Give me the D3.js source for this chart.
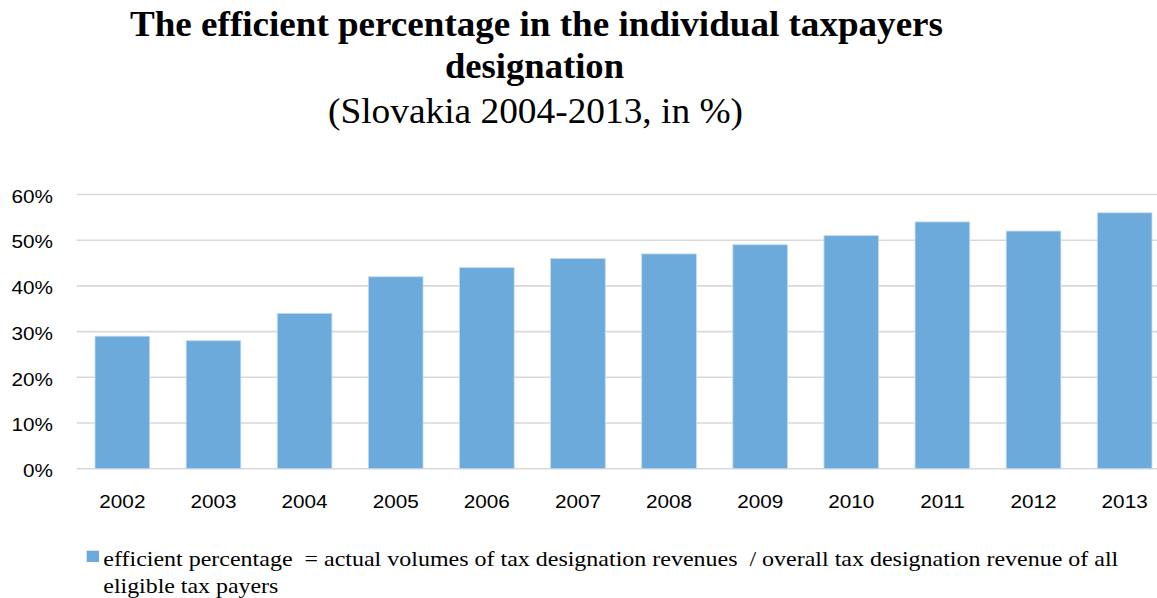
<!DOCTYPE html>
<html>
<head>
<meta charset="utf-8">
<script src="https://cdn.jsdelivr.net/npm/d3@7"></script>
<style>
  html, body { margin: 0; padding: 0; background: #ffffff; overflow: hidden; }
  svg { display: block; }
  text { white-space: pre; }
</style>
</head>
<body>
<svg id="chart" width="1157" height="598"></svg>
<script>
// Efficient percentage of tax designation by year
const years = ["2002", "2003", "2004", "2005", "2006", "2007", "2008", "2009", "2010", "2011", "2012", "2013"];
const efficientPct = [29, 28, 34, 42, 44, 46, 47, 49, 51, 54, 52, 56];
const yTicks = [0, 10, 20, 30, 40, 50, 60];

const titleLines = ["The efficient percentage in the individual taxpayers", "designation"];
const subtitle = "(Slovakia 2004-2013, in %)";
const legendLines = [
  "efficient percentage  = actual volumes of tax designation revenues  / overall tax designation revenue of all",
  "eligible tax payers"
];

const W = 1157, H = 598;
const barColor = "#6caadb";
const gridColor = "#d9d9d9";
const stretch = 1.12; // text in this layout is drawn slightly wide
const serif = "'Liberation Serif', 'Times New Roman', serif";
const sans = "'Liberation Sans', Arial, sans-serif";

const svg = d3.select("#chart");

const x = d3.scaleBand()
  .domain(years)
  .range([76.8, 1170.2])
  .paddingInner(0.4)
  .paddingOuter(0.2);

const y = d3.scaleLinear()
  .domain([0, 60])
  .range([468.7, 194.5]);

// widen a text node by the layout stretch factor
function widen(sel) {
  sel.each(function () {
    const w = this.getComputedTextLength();
    d3.select(this)
      .attr("textLength", w * stretch)
      .attr("lengthAdjust", "spacingAndGlyphs");
  });
}

// Title block
const title = svg.append("g").attr("font-family", serif).attr("fill", "#000");
title.append("text")
  .attr("x", 536.5).attr("y", 36)
  .attr("text-anchor", "middle")
  .attr("font-size", 36).attr("font-weight", "bold")
  .attr("textLength", 813).attr("lengthAdjust", "spacingAndGlyphs")
  .text(titleLines[0]);
title.append("text")
  .attr("x", 534.5).attr("y", 78)
  .attr("text-anchor", "middle")
  .attr("font-size", 36).attr("font-weight", "bold")
  .attr("textLength", 179).attr("lengthAdjust", "spacingAndGlyphs")
  .text(titleLines[1]);
title.append("text")
  .attr("x", 535.5).attr("y", 123)
  .attr("text-anchor", "middle")
  .attr("font-size", 35.5)
  .attr("textLength", 415).attr("lengthAdjust", "spacingAndGlyphs")
  .text(subtitle);

// Horizontal gridlines
svg.append("g")
  .selectAll("line.grid")
  .data(yTicks)
  .join("line")
  .attr("class", "grid")
  .attr("x1", x.range()[0])
  .attr("x2", x.range()[1])
  .attr("y1", d => y(d))
  .attr("y2", d => y(d))
  .attr("stroke", gridColor)
  .attr("stroke-width", 1.6);

// Bars
svg.append("g")
  .selectAll("rect")
  .data(years.map((yr, i) => ({ year: yr, value: efficientPct[i] })))
  .join("rect")
  .attr("x", d => x(d.year))
  .attr("width", x.bandwidth())
  .attr("y", d => y(d.value))
  .attr("height", d => y(0) - y(d.value))
  .attr("fill", barColor)
  .attr("stroke", "#c4dcf1")
  .attr("stroke-width", 0.8);

// Y axis labels
const yAxis = d3.axisLeft(y)
  .tickValues(yTicks)
  .tickSize(0)
  .tickPadding(0)
  .tickFormat(d => d + "%");
const yAxisG = svg.append("g")
  .attr("transform", "translate(53,0)")
  .call(yAxis);
yAxisG.select(".domain").remove();
yAxisG.selectAll("text")
  .attr("font-family", sans)
  .attr("font-size", 18.5)
  .attr("fill", "#000")
  .attr("dy", "0.42em")
  .call(widen);

// X axis labels
const xAxis = d3.axisBottom(x).tickSize(0).tickPadding(0);
const xAxisG = svg.append("g")
  .attr("transform", "translate(0,508)")
  .call(xAxis);
xAxisG.select(".domain").remove();
xAxisG.selectAll("text")
  .attr("font-family", sans)
  .attr("font-size", 18.5)
  .attr("fill", "#000")
  .attr("dy", 0)
  .call(widen);

// Legend
const legend = svg.append("g");
legend.append("rect")
  .attr("x", 86.7).attr("y", 550.7)
  .attr("width", 12.3).attr("height", 11.3)
  .attr("fill", barColor);
legend.append("text")
  .attr("x", 103.3).attr("y", 565.7)
  .attr("font-family", serif)
  .attr("font-size", 21)
  .attr("fill", "#000")
  .attr("textLength", 1015).attr("lengthAdjust", "spacingAndGlyphs")
  .text(legendLines[0]);
legend.append("text")
  .attr("x", 103.3).attr("y", 592.7)
  .attr("font-family", serif)
  .attr("font-size", 21)
  .attr("fill", "#000")
  .attr("textLength", 175).attr("lengthAdjust", "spacingAndGlyphs")
  .text(legendLines[1]);
</script>
</body>
</html>
